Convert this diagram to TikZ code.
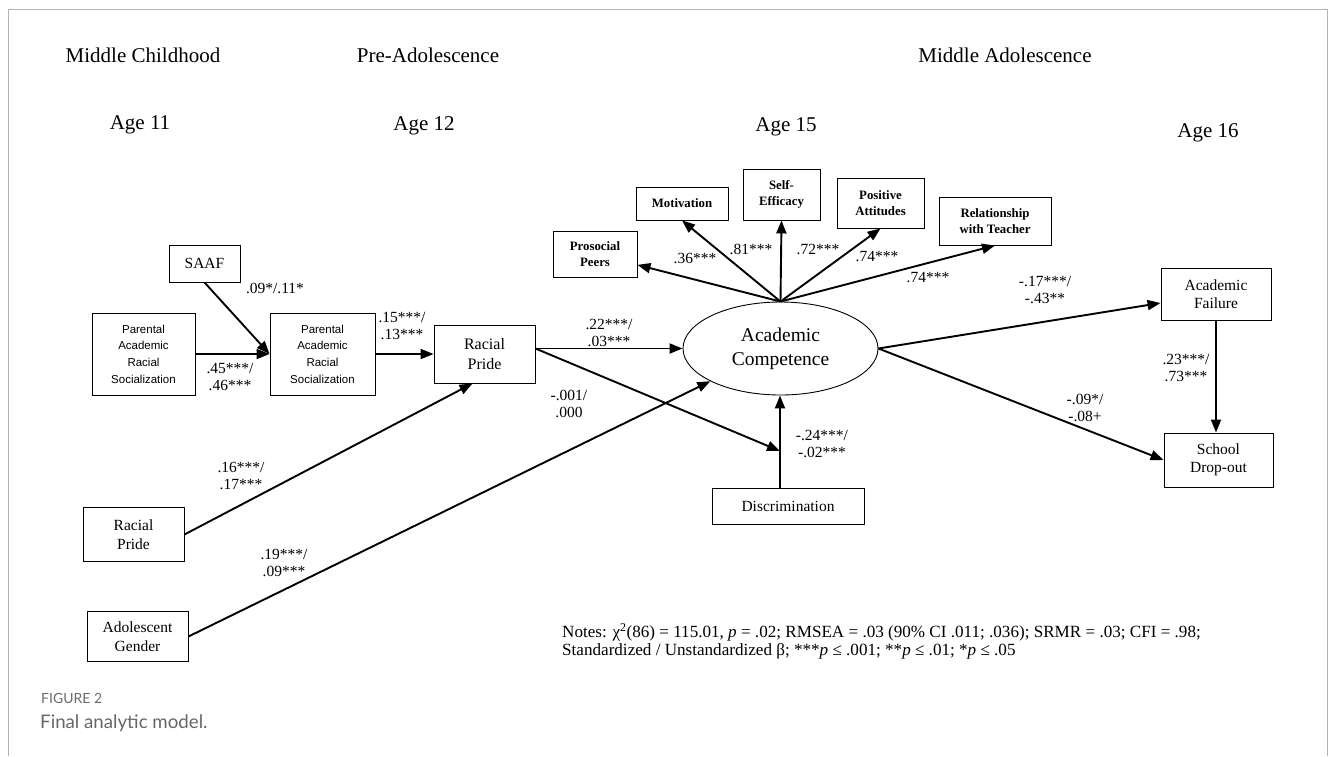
\documentclass[tikz,border=0pt]{standalone}
\usepackage{fontspec}
\setmainfont{Liberation Serif}
\newfontfamily\parsfont{Liberation Sans}
\newfontfamily\capfont{Lato}
\usetikzlibrary{shapes.geometric,arrows.meta}

\begin{document}
\begin{tikzpicture}[x=1pt, y=-1pt,
    box/.style={draw, line width=0.9pt, inner sep=0pt, align=center,
        font=\fontsize{15.5}{18.5}\selectfont},
    indbox/.style={box, font=\fontsize{12.8}{15.5}\selectfont\bfseries},
    parsbox/.style={box, font=\parsfont\fontsize{11.5}{16.7}\selectfont},
    path/.style={line width=1.9pt, -{Triangle[length=13pt,width=10pt]}},
    coef/.style={inner sep=0pt, align=center, font=\fontsize{15.5}{17.5}\selectfont},
    head/.style={inner sep=0pt, font=\fontsize{21}{24}\selectfont}]

\useasboundingbox (0,0) rectangle (1331,756);

% Frame
\draw[black!30, line width=1pt] (8,756) -- (8,9) -- (1327,9) -- (1327,756);

% Periods and ages
\node[head] (hchild) at (143,55) {Middle Childhood};
\node[head] (hpre)   at (428,55) {Pre-Adolescence};
\node[head] (hmid)   at (1005,55) {Middle Adolescence};
\node[head] (age11)  at (140,125) {Age 11};
\node[head] (age12)  at (424,126) {Age 12};
\node[head] (age15)  at (786,127) {Age 15};
\node[head] (age16)  at (1208,133) {Age 16};

% Age 11 and 12 variables
\node[parsbox, minimum width=103pt, minimum height=82pt] (lpars) at (143.5,354)
    {Parental\\Academic\\Racial\\Socialization};
\node[parsbox, minimum width=105pt, minimum height=82pt] (mpars) at (322.5,354)
    {Parental\\Academic\\Racial\\Socialization};
\node[box, minimum width=71pt, minimum height=37pt] (saaf) at (204.5,263.5) {SAAF};
\node[box, minimum width=101pt, minimum height=58pt, font=\fontsize{16}{20}\selectfont]
    (rpride) at (484.5,354) {Racial\\Pride};
\node[box, minimum width=101pt, minimum height=54pt] (rpchild) at (133.5,534.5) {Racial\\Pride};
\node[box, minimum width=101pt, minimum height=50pt] (gender) at (137.5,636.5) {Adolescent\\Gender};

% Academic competence and its indicators
\node[draw, ellipse, line width=0.9pt, minimum width=195pt, minimum height=93pt,
    inner sep=0pt, align=center, font=\fontsize{19.5}{24}\selectfont]
    (acad) at (780.5,348.5) {Academic\\Competence};
\node[indbox, minimum width=84pt, minimum height=46pt] (peers) at (595,254) {Prosocial\\Peers};
\node[indbox, minimum width=92pt, minimum height=33pt] (motiv) at (682,203.5) {Motivation};
\node[indbox, minimum width=77pt, minimum height=51pt] (effic) at (781.5,194.5) {Self-\\Efficacy};
\node[indbox, minimum width=87pt, minimum height=50pt] (attit) at (880.5,203) {Positive\\Attitudes};
\node[indbox, minimum width=112pt, minimum height=48pt] (teach) at (995,221) {Relationship\\with Teacher};
\node[box, minimum width=152pt, minimum height=36pt] (discr) at (788,506) {Discrimination};

% Age 16 outcomes
\node[box, minimum width=110pt, minimum height=52pt] (fail) at (1216,294) {Academic\\Failure};
\node[box, minimum width=109pt, minimum height=54pt] (drop) at (1218.5,460) {School\\Drop-out};

% Paths
\draw[path] (lpars) -- (mpars);
\draw[path] (saaf.south) -- (mpars.west);
\draw[path] (mpars) -- (rpride);
\draw[path] (rpchild.east) -- ([xshift=-12pt]rpride.south);
\draw[path] (gender.east) -- (acad.205);
\draw[path] (rpride.east |- acad.west) -- (acad.west);
\coordinate (meet) at (780,451);
\draw[path] (rpride.east |- acad.west) -- (meet);
\draw[path] (discr.north -| meet) -- (acad.south -| meet);
\draw[path] (acad.north) -- (peers);
\foreach \t in {motiv,effic,attit,teach}
    \draw[path] (acad.north) -- (\t.south);
\draw[path] (acad.east) -- ([yshift=-9pt]fail.west);
\draw[path] (acad.east) -- (drop.west);
\draw[path] (fail.south) -- (fail.south |- drop.north);

% Coefficients
\foreach \x/\y/\v [count=\i] in {
    275/288/{.09*/.11*},
    230/377/{.45***/\\.46***},
    402/326/{.15***/\\.13***},
    241/476/{.16***/\\.17***},
    284/563/{.19***/\\.09***},
    609/333/{.22***/\\.03***},
    569/404/{-.001/\\.000},
    822/444/{-.24***/\\-.02***},
    695/258/{.36***},
    751/249/{.81***},
    818/249/{.72***},
    877/257/{.74***},
    928/278/{.74***},
    1045/290/{-.17***/\\-.43**},
    1186/368/{.23***/\\.73***},
    1085/408/{-.09*/\\-.08+}}
    \node[coef] (c\i) at (\x,\y) {\v};

% Fit notes
\node[anchor=west, inner sep=0pt, align=left, font=\fontsize{17.1}{17.5}\selectfont] (notes) at (562,641)
    {Notes: χ\textsuperscript{2}(86) = 115.01, \textit{p} = .02; RMSEA = .03 (90\% CI .011; .036); SRMR = .03; CFI = .98;\\
     Standardized / Unstandardized β; ***\textit{p} ≤ .001; **\textit{p} ≤ .01; *\textit{p} ≤ .05};

% Caption
\node[anchor=west, inner sep=0pt, text=black!58, font=\capfont\fontsize{14}{16}\selectfont] (figno) at (41,698) {FIGURE 2};
\node[anchor=west, inner sep=0pt, text=black!60, font=\capfont\fontsize{18.7}{22}\selectfont] (figcap) at (40,723) {Final analytic model.};

\end{tikzpicture}
\end{document}
